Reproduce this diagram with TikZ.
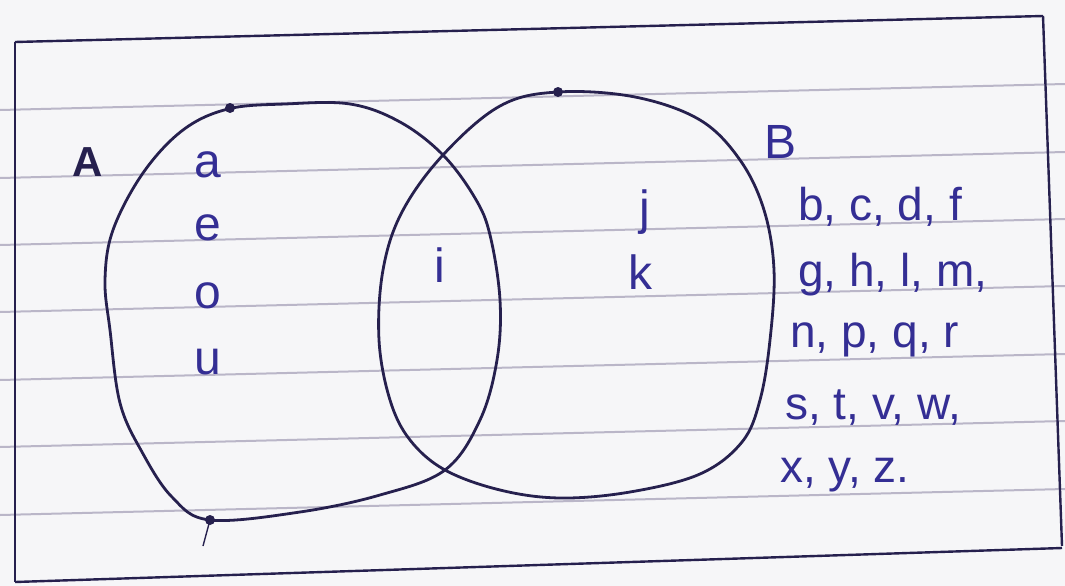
\documentclass[tikz,border=0pt]{standalone}
\usepackage{fontspec}
\setmainfont{Liberation Sans}
\usepackage{tikz}
\usepackage{xcolor}
\usetikzlibrary{positioning}

\definecolor{paper}{RGB}{246,246,248}
\definecolor{rule}{RGB}{186,182,200}
\definecolor{ink}{RGB}{38,32,78}
\definecolor{pen}{RGB}{52,46,148}

\begin{document}
\begin{tikzpicture}[x=1pt, y=-1pt,
    ruled/.style={rule, line width=2pt},
    frameline/.style={ink, line width=2.4pt},
    setline/.style={ink, line width=2.8pt, line cap=round},
    letter/.style={pen, font=\fontsize{48}{48}\selectfont, inner sep=0pt},
    listline/.style={pen, font=\fontsize{46}{46}\selectfont, inner sep=0pt, anchor=west}]
  % Paper
  \fill[paper] (0,0) rectangle (1065,586);
  \useasboundingbox (0,0) rectangle (1065,586);
  % Ruled lines
  \foreach \yy in {110,178,245,312,380,447,515}{
    \draw[ruled] (0,\yy) -- (1065,\yy-26);
  }
  % Frame
  \draw[frameline] (15,42) -- (1043,16);
  \draw[frameline] (15,42) -- (15,582);
  \draw[frameline] (1043,16) -- (1062,546);
  \draw[frameline] (15,582) -- (1062,548);
  % Set A
  \draw[setline] plot[smooth cycle, tension=0.6] coordinates {
    (228,109) (183,130) (143,173) (113,230) (105,280) (110,330) (120,403)
    (142,452) (172,497) (210,520) (300,512) (380,495) (445,470) (480,420)
    (497,360) (500,300) (490,235) (475,198) (443,155) (400,122) (350,104) (285,104)};
  % Set B
  \draw[setline] plot[smooth cycle, tension=0.6] coordinates {
    (558,92) (635,97) (700,120) (740,160) (764,210) (774,270) (770,340)
    (760,400) (742,442) (700,474) (630,492) (560,498) (500,490) (445,470)
    (410,440) (390,400) (379,340) (383,270) (402,212) (443,155) (500,106)};
  % Pen dots
  \foreach \px/\py in {230/108, 558/92, 210/520}{
    \fill[ink] (\px,\py) circle (5pt);
  }
  \draw[ink, line width=1.4pt] (210,520) -- (203,546);
  % Set names
  \node[letter, ink, font=\fontsize{42}{42}\selectfont\bfseries] (labA) at (88,162) {A};
  \node[letter] (labB) at (780,142) {B};
  % Elements of A only
  \foreach \nm/\ch/\yy in {va/a/165, ve/e/228, vo/o/296, vu/u/362}{
    \node[letter] (\nm) at (208,\yy) {\ch};
  }
  % Element of A and B
  \node[letter] (vi) at (440,265) {i};
  % Elements of B only
  \node[letter] (cj) at (645,212) {j};
  \node[letter] (ck) at (640,272) {k};
  % Elements outside the sets
  \node[listline] (row1) at (798,207) {b, c, d, f};
  \node[listline] (row2) at (798,275) {g, h, l, m,};
  \node[listline] (row3) at (790,340) {n, p, q, r};
  \node[listline] (row4) at (785,408) {s, t, v, w,};
  \node[listline] (row5) at (780,475) {x, y, z.};
\end{tikzpicture}
\end{document}
